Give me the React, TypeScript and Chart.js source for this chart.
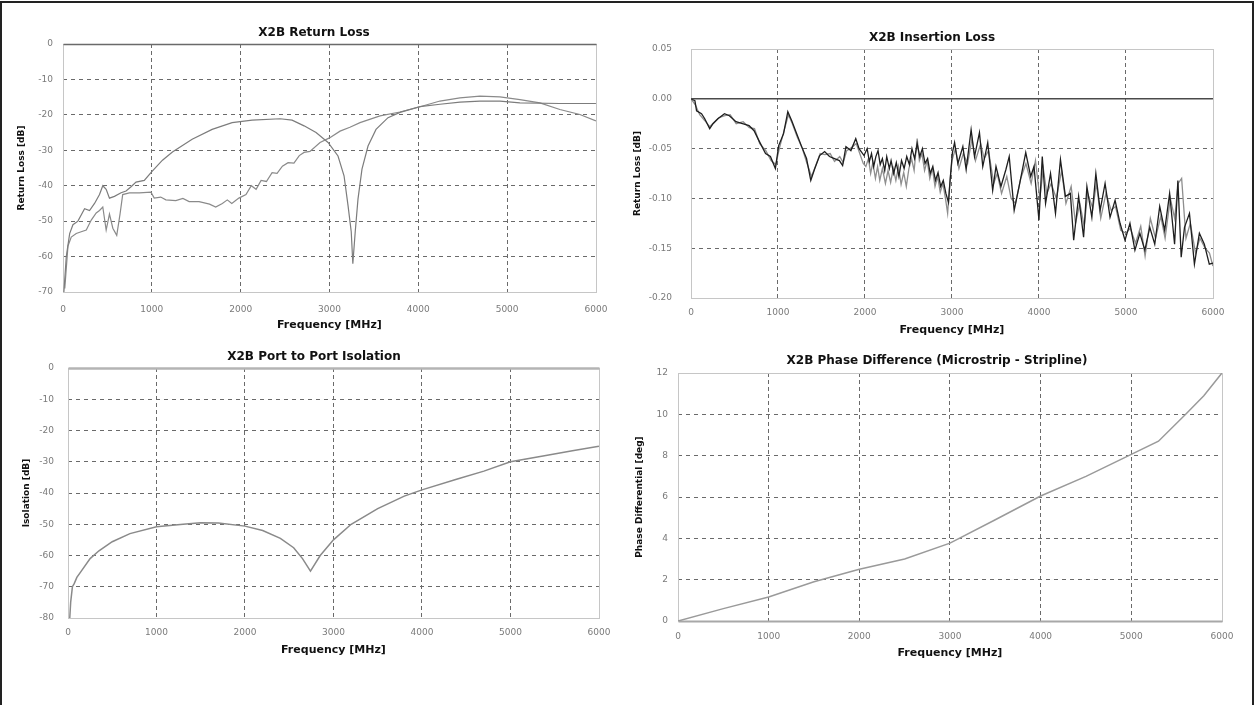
import React, { useEffect, useRef } from "react";
import { Chart, registerables } from "chart.js";

Chart.register(...registerables);

const FONT = "'DejaVu Sans', 'Liberation Sans', sans-serif";

// ---------- X2B Return Loss ----------
const RL_A_FREQ = [10, 37, 75, 112, 168, 243, 299, 355, 411, 448,
  486, 523, 579, 654, 710, 766, 822, 915, 1000, 1120,
  1232, 1454, 1679, 1904, 2129, 2444, 2579, 2714, 2849, 2984,
  3096, 3164, 3209, 3245, 3263, 3290, 3321, 3366, 3434, 3524,
  3659, 3794, 4019, 4244, 4469, 4694, 4919, 5144, 5594, 6000];
const RL_A_DB = [-70, -60, -53.5, -51, -50, -46.5, -47, -45, -42.5, -40,
  -41, -43.5, -43, -42, -41.5, -40.3, -39, -38.5, -36, -32.8,
  -30.5, -26.9, -24.1, -22.2, -21.5, -21.1, -21.5, -23.1, -25, -27.8,
  -31.6, -37.2, -45.6, -53, -62, -53, -43.8, -35.3, -28.8, -24.1,
  -20.8, -19.3, -17.7, -17, -16.4, -16.1, -16.1, -16.6, -16.8, -16.8];

const RL_B_FREQ = [20, 56, 93, 149, 205, 262, 318, 374, 411, 448,
  486, 523, 561, 605, 642, 672, 747, 859, 990, 1027,
  1100, 1158, 1270, 1350, 1420, 1532, 1650, 1719, 1794, 1850,
  1900, 1980, 2060, 2120, 2174, 2230, 2290, 2354, 2410, 2470,
  2534, 2600, 2660, 2714, 2780, 2894, 3000, 3119, 3230, 3344,
  3569, 3794, 4019, 4244, 4469, 4694, 4919, 5144, 5369, 5594,
  5819, 6000];
const RL_B_DB = [-69, -57, -54.5, -53.5, -53, -52.5, -49.7, -47.7, -47, -46,
  -52.5, -48, -52, -54, -48, -42.5, -42, -42, -41.8, -43.5,
  -43.2, -44, -44.2, -43.6, -44.5, -44.5, -45.2, -46, -45, -44,
  -45, -43.5, -42.5, -40, -41, -38.5, -38.8, -36.3, -36.5, -34.5,
  -33.5, -33.6, -31.5, -30.6, -30.3, -27.8, -26.5, -24.6, -23.5, -22.2,
  -20.3, -19.2, -17.7, -16.1, -15.2, -14.7, -14.9, -15.7, -16.6, -18.5,
  -19.9, -21.7];

// ---------- X2B Insertion Loss ----------
const IL_REF_FREQ = [0, 6000];
const IL_REF_DB = [0, 0];

const IL_K_FREQ = [0, 45, 64, 121, 158, 215, 253, 309, 385, 441,
  517, 592, 668, 725, 781, 857, 913, 970, 1008, 1064,
  1113, 1158, 1215, 1272, 1328, 1377, 1423, 1479, 1536, 1592,
  1649, 1706, 1743, 1781, 1838, 1894, 1932, 1989, 2025, 2050,
  2075, 2100, 2125, 2150, 2175, 2200, 2227, 2250, 2280, 2300,
  2330, 2360, 2390, 2420, 2450, 2480, 2510, 2540, 2570, 2600,
  2630, 2660, 2690, 2720, 2750, 2780, 2810, 2840, 2870, 2900,
  2930, 2960, 2980, 3005, 3030, 3068,
  3125, 3163, 3220, 3259, 3316, 3354, 3411, 3468, 3506, 3563,
  3620, 3658, 3715, 3772, 3848, 3905, 3943, 4000, 4038, 4076,
  4133, 4190, 4247, 4304, 4361, 4399, 4456, 4513, 4551, 4608,
  4654, 4703, 4760, 4817, 4875, 4932, 4989, 5046, 5103, 5160,
  5217, 5274, 5331, 5388, 5445, 5502, 5559, 5597, 5635, 5673,
  5730, 5787, 5844, 5901, 5958, 6000];
const IL_K_DB = [0, -0.002, -0.012, -0.015, -0.020, -0.030, -0.025, -0.020, -0.015, -0.017,
  -0.023, -0.025, -0.027, -0.032, -0.042, -0.055, -0.058, -0.070, -0.047, -0.035,
  -0.013, -0.022, -0.035, -0.048, -0.060, -0.082, -0.070, -0.057, -0.053, -0.058,
  -0.060, -0.062, -0.067, -0.048, -0.052, -0.040, -0.050, -0.057, -0.050, -0.063,
  -0.055, -0.068, -0.058, -0.052, -0.066, -0.060, -0.072, -0.058, -0.070, -0.062,
  -0.075, -0.064, -0.078, -0.062, -0.070, -0.058, -0.066, -0.050, -0.060, -0.045,
  -0.058, -0.050, -0.065, -0.060, -0.075, -0.068, -0.082, -0.074, -0.088, -0.082,
  -0.095, -0.104, -0.080, -0.054, -0.044, -0.065,
  -0.048, -0.071, -0.031, -0.058, -0.034, -0.068, -0.044, -0.092, -0.068, -0.088,
  -0.071, -0.058, -0.112, -0.088, -0.054, -0.078, -0.068, -0.122, -0.058, -0.105,
  -0.075, -0.115, -0.061, -0.098, -0.095, -0.142, -0.098, -0.139, -0.088, -0.119,
  -0.075, -0.112, -0.085, -0.119, -0.102, -0.125, -0.142, -0.125, -0.152, -0.135,
  -0.152, -0.129, -0.146, -0.108, -0.132, -0.095, -0.146, -0.082, -0.159, -0.129,
  -0.115, -0.166, -0.135, -0.146, -0.166, -0.165];

const IL_G_FREQ = [0, 50, 100, 160, 215, 260, 320, 390, 450, 520,
  600, 670, 730, 790, 860, 920, 975, 1015, 1070, 1120,
  1165, 1220, 1280, 1330, 1385, 1430, 1485, 1540, 1600, 1650,
  1710, 1750, 1790, 1845, 1900, 1940, 1980, 2010, 2040, 2065,
  2090, 2120, 2145, 2170, 2200, 2235, 2265, 2295, 2325, 2355,
  2385, 2415, 2445, 2475, 2505, 2535, 2565, 2600, 2625, 2655,
  2685, 2715, 2745, 2775, 2805, 2835, 2865, 2895, 2925, 2950,
  2975, 3000, 3040, 3080, 3130,
  3180, 3230, 3270, 3330, 3370, 3420, 3480, 3520, 3570, 3630,
  3680, 3730, 3790, 3850, 3910, 3960, 4010, 4050, 4090, 4140,
  4200, 4260, 4310, 4370, 4420, 4470, 4520, 4560, 4620, 4660,
  4710, 4770, 4830, 4880, 4940, 5000, 5050, 5110, 5170, 5220,
  5280, 5340, 5400, 5450, 5510, 5560, 5600, 5640, 5690, 5740,
  5800, 5850, 5910, 5960, 6000];
const IL_G_DB = [0, -0.006, -0.016, -0.022, -0.028, -0.024, -0.019, -0.017, -0.016, -0.025,
  -0.023, -0.029, -0.030, -0.045, -0.052, -0.062, -0.066, -0.050, -0.032, -0.016,
  -0.025, -0.038, -0.050, -0.064, -0.078, -0.068, -0.055, -0.056, -0.055, -0.063,
  -0.058, -0.064, -0.052, -0.049, -0.045, -0.055, -0.065, -0.068, -0.060, -0.075,
  -0.064, -0.080, -0.068, -0.082, -0.070, -0.085, -0.072, -0.084, -0.070, -0.082,
  -0.068, -0.086, -0.074, -0.088, -0.070, -0.060, -0.072, -0.040, -0.062, -0.055,
  -0.072, -0.062, -0.080, -0.070, -0.088, -0.078, -0.094, -0.085, -0.100, -0.115,
  -0.085, -0.062, -0.050, -0.070, -0.055,
  -0.065, -0.040, -0.062, -0.045, -0.060, -0.052, -0.085, -0.075, -0.095, -0.078,
  -0.100, -0.105, -0.080, -0.065, -0.085, -0.062, -0.100, -0.070, -0.095, -0.085,
  -0.100, -0.072, -0.105, -0.088, -0.125, -0.105, -0.128, -0.095, -0.110, -0.085,
  -0.120, -0.095, -0.112, -0.108, -0.132, -0.135, -0.130, -0.145, -0.128, -0.158,
  -0.120, -0.140, -0.118, -0.140, -0.100, -0.120, -0.085, -0.080, -0.140, -0.125,
  -0.155, -0.140, -0.150, -0.155, -0.168];

// ---------- X2B Port to Port Isolation ----------
const ISO_FREQ = [20, 30, 50, 70, 100, 150, 250, 350, 500, 700,
  1000, 1300, 1500, 1700, 2000, 2200, 2400, 2550, 2650, 2740,
  2850, 3000, 3200, 3500, 3800, 4000, 4400, 4700, 5000, 5400,
  5700, 6000];
const ISO_DB = [-80, -75, -70, -69, -67, -65, -61, -58.5, -55.6, -53,
  -50.8, -50, -49.5, -49.6, -50.6, -52, -54.5, -57.5, -61, -65,
  -60, -55, -50, -45, -41, -39, -35.5, -33, -30, -28,
  -26.5, -25];

// ---------- X2B Phase Difference ----------
const PH_FREQ = [0, 500, 1000, 1500, 2000, 2500, 3000, 3500, 4000, 4500, 5000, 5300, 5600, 5800, 6000];
const PH_DEG = [0, 0.6, 1.16, 1.9, 2.5, 3.0, 3.77, 4.9, 6.05, 7.0, 8.06, 8.7, 10.0, 10.9, 12];

const TITLES = [
  "X2B Return Loss",
  "X2B Insertion Loss",
  "X2B Port to Port Isolation",
  "X2B Phase Difference (Microstrip - Stripline)",
];
const X_TITLE = "Frequency [MHz]";

function pts(xs: number[], ys: number[]) {
  return xs.map((x, i) => ({ x, y: ys[i] }));
}

const decoPlugin = {
  id: "deco",
  beforeDatasetsDraw(chart: any, _a: any, o: any) {
    const { ctx, chartArea: a } = chart;
    const l = Math.round(a.left) + 0.5;
    const t = Math.round(a.top) + 0.5;
    const r = Math.round(a.right) + 0.5;
    const b = Math.round(a.bottom) + 0.5;
    ctx.save();
    ctx.strokeStyle = "#c6c6c6";
    ctx.lineWidth = 1;
    ctx.strokeRect(l, t, r - l, b - t);
    const edge = (e: any, y: number) => {
      if (!e) return;
      ctx.strokeStyle = e.color;
      ctx.lineWidth = e.width;
      ctx.beginPath();
      ctx.moveTo(l, y);
      ctx.lineTo(r, y);
      ctx.stroke();
    };
    edge(o.topEdge, t);
    edge(o.bottomEdge, b);
    ctx.restore();
  },
  afterDraw(chart: any, _a: any, o: any) {
    const { ctx } = chart;
    ctx.save();
    ctx.font = `bold 12px ${FONT}`;
    ctx.fillStyle = "#111";
    ctx.textAlign = "center";
    ctx.textBaseline = "middle";
    ctx.fillText(o.title, o.tx, o.ty);
    ctx.restore();
  },
};

const gridColor = (c: any) =>
  c.index === 0 || c.index === c.scale.ticks.length - 1 ? "rgba(0,0,0,0)" : "#6a6a6a";

type AxisOpts = {
  yMin: number; yMax: number; yStep: number; yTitle: string;
  yTitlePad: number; yW: number; xH: number; xTickPad: number; yTickPad: number;
  yFmt: (v: number) => string;
};

function scales(o: AxisOpts) {
  return {
    x: {
      type: "linear",
      min: 0,
      max: 6000,
      ticks: {
        stepSize: 1000,
        padding: o.xTickPad,
        color: "#7a7a7a",
        font: { family: FONT, size: 9 },
        maxRotation: 0,
        autoSkip: false,
        callback: (v: any) => String(v),
      },
      grid: { color: gridColor, drawTicks: false, lineWidth: 1 },
      border: { display: false, dash: [4, 3] },
      title: {
        display: true,
        text: X_TITLE,
        color: "#111",
        font: { family: FONT, size: 11, weight: "bold" },
        padding: { top: 0, bottom: 13.4 },
      },
      afterFit: (s: any) => { s.height = o.xH; },
    },
    y: {
      type: "linear",
      min: o.yMin,
      max: o.yMax,
      ticks: {
        stepSize: o.yStep,
        padding: o.yTickPad,
        color: "#7a7a7a",
        font: { family: FONT, size: 9 },
        autoSkip: false,
        callback: (v: any) => o.yFmt(Number(v)),
      },
      grid: { color: gridColor, drawTicks: false, lineWidth: 1 },
      border: { display: false, dash: [4, 4] },
      title: {
        display: true,
        text: o.yTitle,
        color: "#111",
        font: { family: FONT, size: 9, weight: "bold" },
        padding: { top: o.yTitlePad, bottom: 0 },
      },
      afterFit: (s: any) => { s.width = o.yW; },
    },
  };
}

function line(data: { x: number; y: number }[], color: string, width: number) {
  return {
    data,
    borderColor: color,
    backgroundColor: color,
    borderWidth: width,
    pointRadius: 0,
    tension: 0,
    fill: false,
  };
}

function baseOptions(padTop: number, padRight: number, sc: any, deco: any) {
  return {
    responsive: false,
    animation: false,
    events: [],
    layout: { padding: { top: padTop, right: padRight, left: 0, bottom: 0 } },
    plugins: {
      legend: { display: false },
      tooltip: { enabled: false },
      title: { display: false },
      deco,
    },
    scales: sc,
  };
}

const intFmt = (v: number) => String(Math.round(v));

const configs: (() => any)[] = [
  () => ({
    type: "line",
    data: {
      datasets: [
        line(pts(RL_A_FREQ, RL_A_DB), "#7c7c7c", 1.2),
        line(pts(RL_B_FREQ, RL_B_DB), "#8a8a8a", 1.2),
      ],
    },
    options: baseOptions(34, 23, scales({
      yMin: -70, yMax: 0, yStep: 10, yTitle: "Return Loss [dB]",
      yTitlePad: 8.6, yW: 55, xH: 53, xTickPad: 12.6, yTickPad: 10, yFmt: intFmt,
    }), { title: TITLES[0], tx: 306, ty: 23, topEdge: { color: "#6a6a6a", width: 1.6 } }),
    plugins: [decoPlugin],
  }),
  () => ({
    type: "line",
    data: {
      datasets: [
        line(pts(IL_REF_FREQ, IL_REF_DB), "#4a4a4a", 1.6),
        line(pts(IL_K_FREQ, IL_K_DB), "#1e1e1e", 1.3),
        line(pts(IL_G_FREQ, IL_G_DB), "#8e8e8e", 1.3),
      ],
    },
    options: baseOptions(39, 13, scales({
      yMin: -0.2, yMax: 0.05, yStep: 0.05, yTitle: "Return Loss [dB]",
      yTitlePad: 2.6, yW: 61, xH: 52, xTickPad: 9.6, yTickPad: 19, yFmt: (v) => v.toFixed(2),
    }), { title: TITLES[1], tx: 302, ty: 28 }),
    plugins: [decoPlugin],
  }),
  () => ({
    type: "line",
    data: { datasets: [line(pts(ISO_FREQ, ISO_DB), "#8a8a8a", 1.5)] },
    options: baseOptions(28, 14, scales({
      yMin: -80, yMax: 0, yStep: 10, yTitle: "Isolation [dB]",
      yTitlePad: 13.6, yW: 60, xH: 52, xTickPad: 9.6, yTickPad: 14, yFmt: intFmt,
    }), { title: TITLES[2], tx: 306, ty: 17, topEdge: { color: "#b4b4b4", width: 2.5 } }),
    plugins: [decoPlugin],
  }),
  () => ({
    type: "line",
    data: { datasets: [line(pts(PH_FREQ, PH_DEG), "#9a9a9a", 1.5)] },
    options: baseOptions(28, 22, scales({
      yMin: 0, yMax: 12, yStep: 2, yTitle: "Phase Differential [deg]",
      yTitlePad: 4.6, yW: 48, xH: 52, xTickPad: 10.6, yTickPad: 10, yFmt: intFmt,
    }), { title: TITLES[3], tx: 307, ty: 16, bottomEdge: { color: "#a8a8a8", width: 2 } }),
    plugins: [decoPlugin],
  }),
];

const PANELS = [
  { left: 8, top: 10, width: 612, height: 335 },
  { left: 630, top: 10, width: 604, height: 340 },
  { left: 8, top: 340, width: 612, height: 330 },
  { left: 630, top: 345, width: 614, height: 328 },
];

function Panel({ idx }: { idx: number }) {
  const ref = useRef<HTMLCanvasElement>(null);
  const p = PANELS[idx];
  useEffect(() => {
    if (!ref.current) return;
    const chart = new Chart(ref.current, configs[idx]());
    return () => chart.destroy();
  }, [idx]);
  return (
    <canvas
      ref={ref}
      width={p.width}
      height={p.height}
      style={{ position: "fixed", left: p.left, top: p.top, width: p.width, height: p.height }}
    />
  );
}

export default function App() {
  return (
    <div>
      <div
        style={{
          position: "fixed",
          left: 0,
          top: 1,
          width: 1254,
          height: 704,
          boxSizing: "border-box",
          borderTop: "2px solid #222",
          borderLeft: "2px solid #222",
          borderRight: "2px solid #222",
          background: "#fff",
        }}
      />
      {PANELS.map((_, i) => (
        <Panel key={i} idx={i} />
      ))}
    </div>
  );
}
